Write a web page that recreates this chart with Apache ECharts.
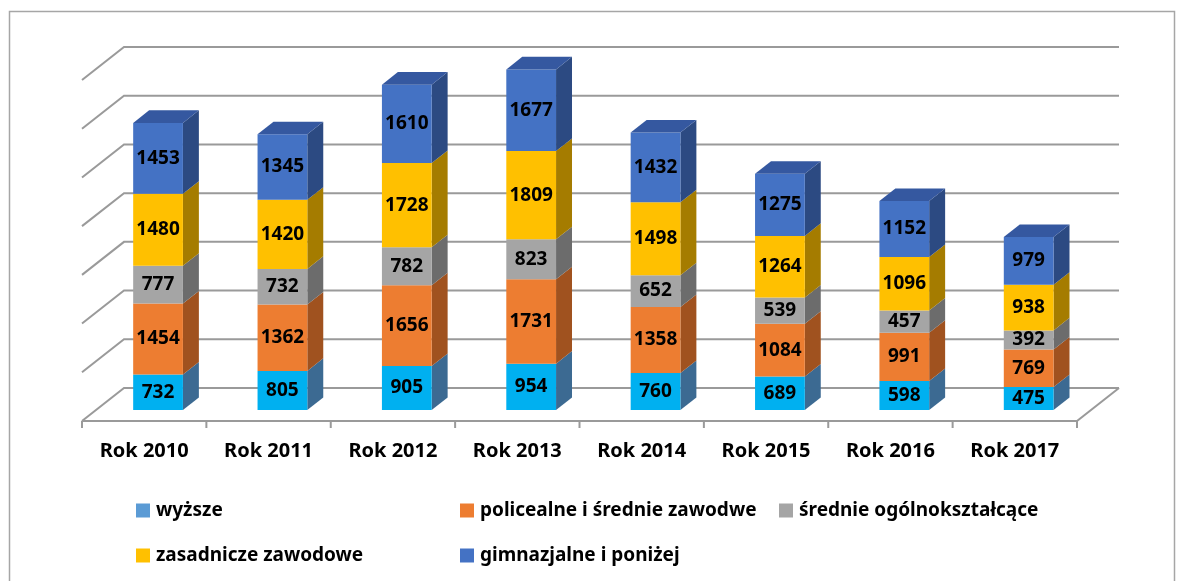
<!DOCTYPE html>
<html><head><meta charset="utf-8">
<script src="https://cdn.jsdelivr.net/npm/echarts@6/dist/echarts.min.js"></script>
<style>html,body{margin:0;padding:0;background:#fff}#c{width:1181px;height:581px}</style>
</head><body><div id="c"></div>
<script>
const categories = ['Rok 2010','Rok 2011','Rok 2012','Rok 2013','Rok 2014','Rok 2015','Rok 2016','Rok 2017'];
const seriesNames = ['wyższe','policealne i średnie zawodwe','średnie ogólnokształcące','zasadnicze zawodowe','gimnazjalne i poniżej'];
const wyzsze        = [732, 805, 905, 954, 760, 689, 598, 475];
const policealne    = [1454, 1362, 1656, 1731, 1358, 1084, 991, 769];
const srednie       = [777, 732, 782, 823, 652, 539, 457, 392];
const zasadnicze    = [1480, 1420, 1728, 1809, 1498, 1264, 1096, 938];
const gimnazjalne   = [1453, 1345, 1610, 1677, 1432, 1275, 1152, 979];
const yTicks = [0, 1000, 2000, 3000, 4000, 5000, 6000, 7000];

const values = [wyzsze, policealne, srednie, zasadnicze, gimnazjalne];
const legendColors = ['#5B9BD5','#ED7D31','#A5A5A5','#FFC000','#4472C4'];
const frontColors  = ['#00B0F0','#ED7D31','#A5A5A5','#FFC000','#4472C4'];
const sideColors   = ['#3C6A92','#A0521F','#6C6C6C','#A57C00','#2C4A82'];
const topColors    = ['#4A86B8','#C0622A','#8A8A8A','#CC9A00','#3558A0'];

const DX = 42, DY = -33;      // floor depth projection
const F0 = 0.33, F1 = 0.71;   // bar depth range
const BAR_FRAC = 0.40;
const FONT = '"Noto Sans", "Open Sans", sans-serif';
const GRID_COLOR = '#9a9a9a';

// cumulative data
const stackData = values.map((arr, s) => arr.map((v, i) => {
  let lo = 0; for (let k = 0; k < s; k++) lo += values[k][i];
  return [i, lo, lo + v, v];
}));

function wallRender(params, api) {
  const bw = api.size([1, 0])[0];
  const n = categories.length;
  const xL = api.coord([0, 0])[0] - bw / 2;
  const xR = api.coord([n - 1, 0])[0] + bw / 2;
  const children = [];
  yTicks.forEach(v => {
    const y = api.coord([0, v])[1];
    children.push({type:'polyline', shape:{points:[[xL, y],[xL+DX, y+DY],[xR+DX, y+DY]]},
      style:{stroke:GRID_COLOR, lineWidth:2, fill:null}});
  });
  const y0 = api.coord([0, 0])[1];
  children.push({type:'polyline', shape:{points:[[xL, y0],[xR, y0],[xR+DX, y0+DY]]},
    style:{stroke:GRID_COLOR, lineWidth:2, fill:null}});
  for (let i = 0; i <= n; i++) {
    const x = xL + i * bw;
    children.push({type:'line', shape:{x1:x, y1:y0, x2:x, y2:y0+7}, style:{stroke:GRID_COLOR, lineWidth:2}});
  }
  return {type:'group', children};
}

function barRender(s) {
  return function (params, api) {
    const ci = api.value(0), lo = api.value(1), hi = api.value(2), val = api.value(3);
    const bw = api.size([1, 0])[0];
    const w = bw * BAR_FRAC;
    const pLo = api.coord([ci, lo]), pHi = api.coord([ci, hi]);
    const ox = DX * F0, oy = DY * F0;
    const xl = pLo[0] - w / 2 + ox, xr = xl + w;
    const yb = pLo[1] + oy, yt = pHi[1] + oy;
    const dx = DX * (F1 - F0), dy = DY * (F1 - F0);
    const children = [
      {type:'polygon', shape:{points:[[xr, yb],[xr+dx, yb+dy],[xr+dx, yt+dy],[xr, yt]]},
        style:{fill:sideColors[s]}},
      {type:'rect', shape:{x:xl, y:yt, width:w, height:yb-yt}, style:{fill:frontColors[s]}}
    ];
    if (s === values.length - 1) {
      children.push({type:'polygon', shape:{points:[[xl, yt],[xr, yt],[xr+dx, yt+dy],[xl+dx, yt+dy]]},
        style:{fill:topColors[s]}});
    }
    children.push({type:'text', style:{text:String(val), x:(xl+xr)/2, y:(yt+yb)/2,
      align:'center', verticalAlign:'middle', fill:'#000', fontSize:19, fontWeight:'bold', fontFamily:FONT}});
    return {type:'group', children};
  };
}

const series = [{
  type:'custom', name:'_walls', silent:true, data:[[0, 0]], encode:{x:0, y:1},
  renderItem: wallRender, z:1
}];
values.forEach((arr, s) => {
  series.push({type:'custom', name:seriesNames[s], data:stackData[s], encode:{x:0, y:[1,2]},
    itemStyle:{color:legendColors[s]}, renderItem: barRender(s), z:2});
});

const legendPos = [[131, 496],[455, 496],[774, 496],[131, 541],[455, 541]];
const legends = seriesNames.map((nm, s) => ({
  data:[nm], left:legendPos[s][0], top:legendPos[s][1], icon:'rect', itemWidth:14, itemHeight:14,
  itemGap:0, selectedMode:false,
  textStyle:{fontSize:19, fontWeight:'bold', color:'#000', fontFamily:FONT, padding:[0,0,0,1]}
}));

const chart = echarts.init(document.getElementById('c'), null, {renderer:'canvas'});
chart.setOption({
  animation:false,
  backgroundColor:'#fff',
  graphic:[{type:'rect', shape:{x:9.5, y:11.5, width:1165, height:600}, style:{fill:null, stroke:'#a6a6a6', lineWidth:1.5}, silent:true, z:-10}],
  grid:{left:82, right:104, top:80, bottom:160},
  xAxis:{type:'category', data:categories, axisLine:{show:false}, axisTick:{show:false}, splitLine:{show:false},
    axisLabel:{fontSize:20, fontWeight:'bold', color:'#000', fontFamily:FONT, margin:20}},
  yAxis:{type:'value', min:0, max:7000, interval:1000, show:false, splitLine:{show:false}},
  legend: legends,
  series
});
</script></body></html>
